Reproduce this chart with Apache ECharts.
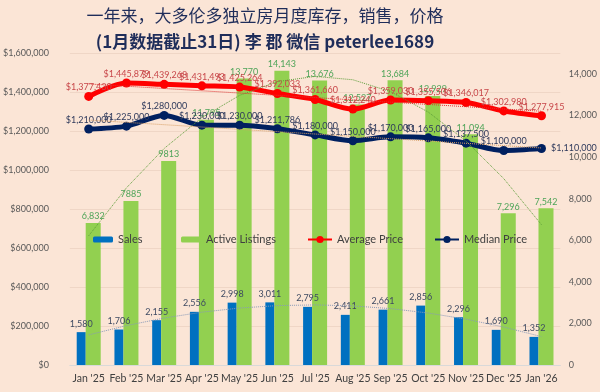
<!DOCTYPE html>
<html><head><meta charset="utf-8">
<script src="https://cdn.jsdelivr.net/npm/echarts@6/dist/echarts.min.js"></script>
<style>html,body{margin:0;padding:0;background:#FBE5D6}#c{width:600px;height:392px}</style>
</head><body><div id="c"></div>
<script>
const titleLine1 = '一年来，大多伦多独立房月度库存，销售，价格';
const titleLine2 = '(1月数据截止31日) 李 郡 微信 peterlee1689';
const categories = ["Jan '25","Feb '25","Mar '25","Apr '25","May '25","Jun '25","Jul '25","Aug '25","Sep '25","Oct '25","Nov '25","Dec '25","Jan '26"];
const sales = [1580,1706,2155,2556,2998,3011,2795,2411,2661,2856,2296,1690,1352];
const listings = [6832,7885,9813,11795,13770,14143,13676,12527,13684,12929,11094,7296,7542];
const listingLabels = ['6,832','7885','9813','11,795','13,770','14,143','13,676','12,527','13,684','12,929','11,094','7,296','7,542'];
const avgPrice = [1377430,1445879,1439268,1431493,1425264,1392033,1361660,1312240,1359030,1355506,1346017,1302980,1277915];
const medianPrice = [1210000,1225000,1280000,1230000,1230000,1211786,1180000,1150000,1170000,1165000,1137500,1100000,1110000];
const leftTicks = {min:0, max:1600000, interval:200000};
const rightTicks = {min:0, max:15000, interval:2000};

// least-squares polynomial trendline (like Excel's trendline), computed from the data
function trend(ys, deg){
  const n = ys.length, c = (n-1)/2, m = deg+1;
  const A = [], b = [];
  for(let i=0;i<m;i++){A.push(new Array(m).fill(0)); b.push(0);}
  ys.forEach((y,k)=>{const x=k-c;
    for(let i=0;i<m;i++){b[i]+=Math.pow(x,i)*y; for(let j=0;j<m;j++) A[i][j]+=Math.pow(x,i+j);} });
  for(let i=0;i<m;i++){
    for(let r=i+1;r<m;r++){const f=A[r][i]/A[i][i]; for(let j=i;j<m;j++) A[r][j]-=f*A[i][j]; b[r]-=f*b[i];}
  }
  const coef=new Array(m).fill(0);
  for(let i=m-1;i>=0;i--){let s=b[i]; for(let j=i+1;j<m;j++) s-=A[i][j]*coef[j]; coef[i]=s/A[i][i];}
  return ys.map((_,k)=>{const x=k-c; let v=0; for(let i=0;i<m;i++) v+=coef[i]*Math.pow(x,i); return v;});
}

const FONT = 'Lato, "Noto Sans", sans-serif';
const fmt = v => Number(v).toLocaleString('en-US');
const money = v => '$' + fmt(v);
const last = medianPrice.length - 1;

const chart = echarts.init(document.getElementById('c'));
function trendSeries(name, data, axis, color){
  return {name, type:'line', yAxisIndex:axis, data, symbol:'none', silent:true, z:5,
    lineStyle:{color, width:1, type:'dotted'}, itemStyle:{color}, tooltip:{show:false}};
}
chart.setOption({
  backgroundColor:'#FBE5D6',
  textStyle:{fontFamily:FONT},
  animation:false,
  graphic:[
    {type:'text', x:265, y:16, style:{text:titleLine1, fill:'#1F2D5A', font:'17px "Noto Sans CJK SC", sans-serif', align:'center', verticalAlign:'middle'}},
    {type:'text', x:265, y:42, style:{text:titleLine2, fill:'#1F2D5A', font:'bold 17px "Noto Sans CJK SC", sans-serif', align:'center', verticalAlign:'middle'}}
  ],
  grid:{left:57.5, right:35.5, top:53, bottom:27, containLabel:false},
  legend:[
    {data:['Sales'], left:93, top:234, padding:0, itemWidth:20, itemHeight:6, itemGap:0, textStyle:{color:'#404040', fontSize:11, fontFamily:FONT}},
    {data:['Active Listings'], left:181, top:234, padding:0, itemWidth:20, itemHeight:6, itemGap:0, textStyle:{color:'#404040', fontSize:11, fontFamily:FONT}},
    {data:['Average Price'], left:307, top:234, padding:0, itemWidth:24, itemHeight:9, itemGap:0, textStyle:{color:'#404040', fontSize:11, fontFamily:FONT}},
    {data:['Median Price'], left:434, top:234, padding:0, itemWidth:24, itemHeight:9, itemGap:0, textStyle:{color:'#404040', fontSize:11, fontFamily:FONT}}
  ],
  xAxis:{type:'category', data:categories,
    axisLine:{lineStyle:{color:'#D9D9D9'}}, axisTick:{show:false},
    axisLabel:{color:'#404040', fontSize:10.5, margin:8, interval:0, fontFamily:FONT}},
  yAxis:[
    {type:'value', min:leftTicks.min, max:leftTicks.max, interval:leftTicks.interval,
      axisLabel:{formatter:money, color:'#595959', fontSize:9, margin:21, fontFamily:FONT},
      axisLine:{show:false}, axisTick:{show:false},
      splitLine:{lineStyle:{color:'#EFD6C6', width:1}}},
    {type:'value', min:rightTicks.min, max:rightTicks.max, interval:rightTicks.interval,
      axisLabel:{formatter:fmt, color:'#595959', fontSize:9, margin:8.5, showMaxLabel:false, fontFamily:FONT},
      axisLine:{show:false}, axisTick:{show:false}, splitLine:{show:false}}
  ],
  series:[
    {name:'Sales', type:'bar', yAxisIndex:1, data:sales, barWidth:9, barGap:0, z:2,
      itemStyle:{color:'#0070C0'},
      label:{show:true, position:'top', distance:4, color:'#3E4A62', fontSize:9, formatter:p=>fmt(p.value), fontFamily:FONT}},
    {name:'Active Listings', type:'bar', yAxisIndex:1, data:listings, barWidth:15, barGap:0, z:2,
      itemStyle:{color:'#92D050'},
      label:{show:true, position:'top', distance:2, color:'#4EA458', fontSize:9, formatter:p=>listingLabels[p.dataIndex], fontFamily:FONT}},
    trendSeries('Sales trend', trend(sales,2), 1, '#8A9AB8'),
    trendSeries('Listings trend', trend(listings,2), 1, '#5E9E3A'),
    {name:'Average Price', type:'line', yAxisIndex:0, data:avgPrice, smooth:0.3, z:3,
      symbol:'circle', symbolSize:9, lineStyle:{color:'#FF0000', width:5}, itemStyle:{color:'#FF0000'},
      label:{show:true, position:'top', distance:0, color:'#C8474A', fontSize:9, formatter:p=>money(p.value), fontFamily:FONT}},
    {name:'Median Price', type:'line', yAxisIndex:0, smooth:0.3, z:3,
      data:medianPrice.map((v,i)=> i===last ? {value:v, label:{position:'right', distance:5}} : v),
      symbol:'circle', symbolSize:9, lineStyle:{color:'#002060', width:5}, itemStyle:{color:'#002060'},
      label:{show:true, position:'top', distance:0, color:'#2F3A5C', fontSize:9, formatter:p=>money(p.value), fontFamily:FONT}},
    trendSeries('Average trend', trend(avgPrice,1), 0, '#E03030'),
    trendSeries('Median trend', trend(medianPrice,1), 0, '#D9A066')
  ]
});
</script></body></html>
